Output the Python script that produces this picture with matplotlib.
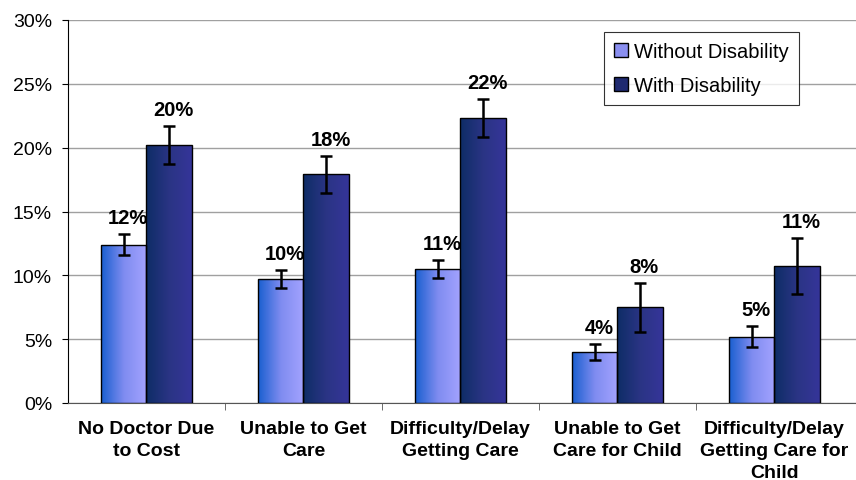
import matplotlib
matplotlib.use("Agg")
import matplotlib.pyplot as plt
import numpy as np
from matplotlib.colors import LinearSegmentedColormap
from matplotlib.ticker import FuncFormatter, FixedLocator
from matplotlib.patches import Patch

categories = ["No Doctor Due\nto Cost", "Unable to Get\nCare", "Difficulty/Delay\nGetting Care",
              "Unable to Get\nCare for Child", "Difficulty/Delay\nGetting Care for\nChild"]
without_vals = [12.4, 9.7, 10.5, 4.0, 5.2]
with_vals = [20.2, 17.9, 22.3, 7.5, 10.7]
without_err = [0.8, 0.7, 0.7, 0.6, 0.8]
with_err = [1.5, 1.45, 1.5, 1.9, 2.2]
without_labels = ["12%", "10%", "11%", "4%", "5%"]
with_labels = ["20%", "18%", "22%", "8%", "11%"]
series_names = ["Without Disability", "With Disability"]

FONT = "Liberation Sans"

fig = plt.figure(figsize=(8.56, 4.81), dpi=100)
ax = fig.add_axes([68/856, 1-404/481, (856-68)/856, (404-21)/481])

x = np.arange(len(categories))
w = 0.29
cmap_light = LinearSegmentedColormap.from_list("l", ["#1a5fd0", "#7f8cf0", "#a3a3ff"])
cmap_dark = LinearSegmentedColormap.from_list("d", ["#0e2d66", "#2a3484", "#353599"])
grad = np.linspace(0, 1, 64).reshape(1, -1)

def grad_bars(xs, vals, cmap, color):
    bars = ax.bar(xs, vals, w, color=color, edgecolor="black", linewidth=1.0, zorder=3)
    for b in bars:
        x0, y0 = b.get_x(), b.get_y()
        im = ax.imshow(grad, cmap=cmap, aspect="auto",
                       extent=[x0, x0 + b.get_width(), y0, y0 + b.get_height()], zorder=3)
        im.set_clip_path(b)
        b.set_facecolor("none")
        b.set_zorder(4)
    return bars

grad_bars(x - w/2, without_vals, cmap_light, "#7f8cf0")
grad_bars(x + w/2, with_vals, cmap_dark, "#1f2f80")

ax.errorbar(x - w/2, without_vals, yerr=without_err, fmt="none", ecolor="black",
            elinewidth=1.8, capsize=4, capthick=1.8, zorder=5)
ax.errorbar(x + w/2, with_vals, yerr=with_err, fmt="none", ecolor="black",
            elinewidth=1.8, capsize=4, capthick=1.8, zorder=5)

for xs, vals, errs, labs in [(x - w/2, without_vals, without_err, without_labels),
                             (x + w/2, with_vals, with_err, with_labels)]:
    for xi, v, e, lab in zip(xs, vals, errs, labs):
        ax.annotate(lab, (xi, v + e), xytext=(3, 8), textcoords="offset points",
                    ha="center", va="baseline", fontsize=14.5,
                    fontweight="bold", family=FONT, zorder=6)

ax.set_xlim(-0.5, len(categories) - 0.5 + 0.02)
ax.set_ylim(0, 30)
ax.set_yticks(np.arange(0, 31, 5))
ax.yaxis.set_major_formatter(FuncFormatter(lambda v, p: f"{int(v)}%"))
ax.yaxis.grid(True, color="#a0a0a0", linewidth=1.0, zorder=0)
ax.set_axisbelow(True)

ax.set_xticks(x)
ax.set_xticklabels(categories, fontsize=14, fontweight="bold", family=FONT,
                   linespacing=1.38)
ax.tick_params(axis="x", length=0, pad=12)
ax.xaxis.set_minor_locator(FixedLocator(np.arange(0.5, len(categories) - 0.5, 1)))
ax.tick_params(axis="x", which="minor", length=5, color="#555555", direction="out")
ax.tick_params(axis="y", length=4.5, direction="out", labelsize=14, pad=7)
for t in ax.get_yticklabels():
    t.set_family(FONT)

for s in ["top", "right"]:
    ax.spines[s].set_visible(False)
ax.spines["left"].set_color("black")
ax.spines["bottom"].set_color("#555555")

handles = [Patch(facecolor="#8a8ff0", edgecolor="black"), Patch(facecolor="#1f2a70", edgecolor="black")]
leg = ax.legend(handles, series_names, loc="upper left",
                bbox_to_anchor=((604-68)/788, 1-(33-21)/383),
                frameon=True, fancybox=False, edgecolor="black",
                prop={"family": FONT, "size": 14.5}, handlelength=0.7, handleheight=0.7,
                handletextpad=0.3, borderpad=0.5, labelspacing=0.75, borderaxespad=0)
leg.get_frame().set_linewidth(0.8)

fig.savefig("out.png", dpi=100)
